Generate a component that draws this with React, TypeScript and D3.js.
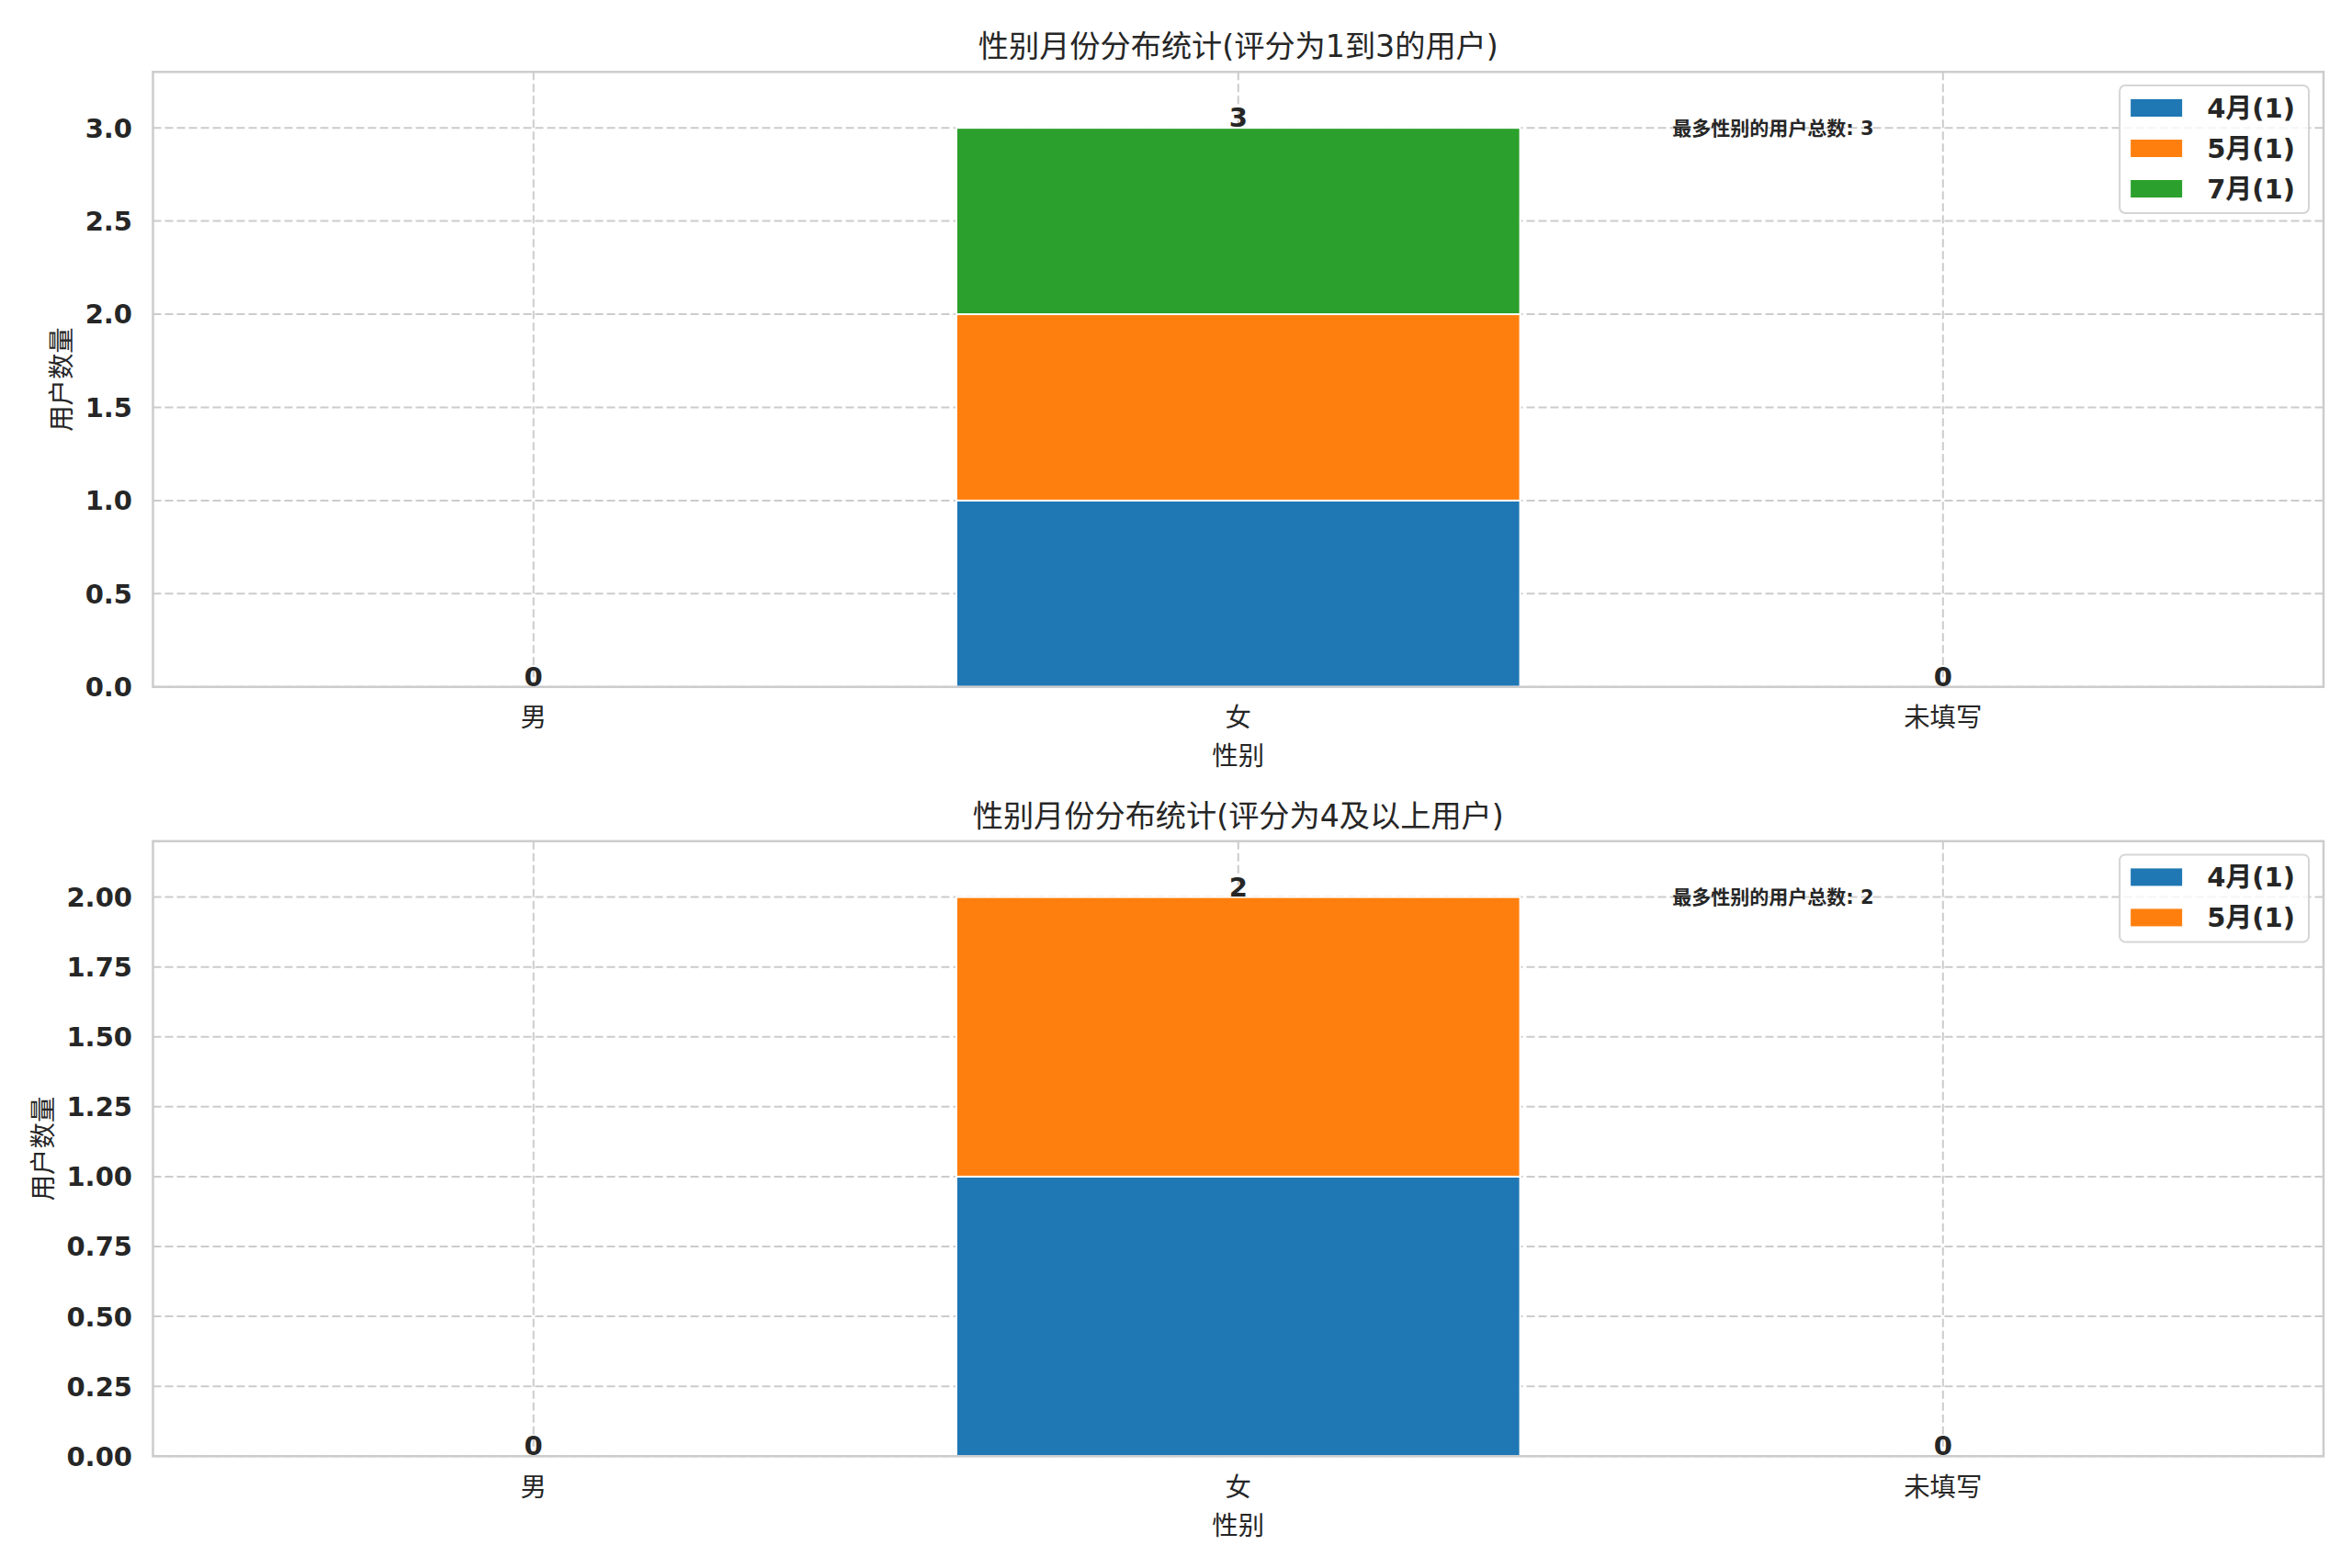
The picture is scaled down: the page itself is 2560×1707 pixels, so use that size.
import React, { useEffect, useRef } from "react";
import * as d3 from "d3";

// categories on the x axis
const genders = ["男", "女", "未填写"];

// upper chart: ratings 1-3
const lowTitle = "性别月份分布统计(评分为1到3的用户)";
const lowMonths = ["4月(1)", "5月(1)", "7月(1)"];
const lowCounts = [
  [0, 1, 0],
  [0, 1, 0],
  [0, 1, 0]
];
const lowTicks = [0, 0.5, 1.0, 1.5, 2.0, 2.5, 3.0];

// lower chart: ratings 4 and up
const highTitle = "性别月份分布统计(评分为4及以上用户)";
const highMonths = ["4月(1)", "5月(1)"];
const highCounts = [
  [0, 1, 0],
  [0, 1, 0]
];
const highTicks = [0, 0.25, 0.5, 0.75, 1.0, 1.25, 1.5, 1.75, 2.0];

const xLabel = "性别";
const yLabel = "用户数量";
const notePrefix = "最多性别的用户总数";

const colors = ["#1f77b4", "#ff7f0e", "#2ca02c"];
const W = 2560;
const H = 1707;
const FONT = "'DejaVu Sans', 'Noto Sans CJK SC', sans-serif";
const INK = "#262626";

const panels = [
  { title: lowTitle, months: lowMonths, counts: lowCounts, ticks: lowTicks, fmt: ".1f", top: 78.3, bottom: 747.8, titleY: 50.5 },
  { title: highTitle, months: highMonths, counts: highCounts, ticks: highTicks, fmt: ".2f", top: 915.7, bottom: 1585.3, titleY: 888 }
];

export default function App() {
  const svgRef = useRef<SVGSVGElement | null>(null);

  useEffect(() => {
    document.body.style.margin = "0";
    const svg = d3.select(svgRef.current);
    svg.selectAll("*").remove();

    const left = 166.5;
    const right = 2529;
    const n = genders.length;
    const pad = 0.05 * (n - 1 + 0.8);
    const x = d3.scaleLinear().domain([-0.4 - pad, n - 1 + 0.4 + pad]).range([left, right]);

    panels.forEach((p) => {
      const rows = genders.map((g, gi) => {
        const r: any = { gender: g };
        p.months.forEach((m, mi) => (r[m] = p.counts[mi][gi]));
        return r;
      });
      const totals = genders.map((_, gi) => d3.sum(p.counts, (c) => c[gi]));
      const maxTotal = d3.max(totals) ?? 0;
      const y = d3.scaleLinear().domain([0, maxTotal * 1.1]).range([p.bottom, p.top]);
      const series = d3.stack<any>().keys(p.months)(rows);

      const g = svg.append("g").style("font-family", FONT).attr("fill", INK);

      // grid
      g.selectAll("line.hgrid")
        .data(p.ticks)
        .enter()
        .append("line")
        .attr("x1", left)
        .attr("x2", right)
        .attr("y1", (d) => y(d))
        .attr("y2", (d) => y(d))
        .attr("stroke", "#cccccc")
        .attr("stroke-width", 2)
        .attr("stroke-dasharray", "9,4");
      g.selectAll("line.vgrid")
        .data(genders)
        .enter()
        .append("line")
        .attr("x1", (_, i) => x(i))
        .attr("x2", (_, i) => x(i))
        .attr("y1", p.top)
        .attr("y2", p.bottom)
        .attr("stroke", "#cccccc")
        .attr("stroke-width", 2)
        .attr("stroke-dasharray", "9,4");

      // bars
      series.forEach((s, si) => {
        g.selectAll(`rect.s${si}`)
          .data(s)
          .enter()
          .append("rect")
          .attr("x", (_, i) => x(i - 0.4))
          .attr("width", x(0.4) - x(-0.4))
          .attr("y", (d) => y(d[1]))
          .attr("height", (d) => y(d[0]) - y(d[1]))
          .attr("fill", colors[si])
          .attr("stroke", "#ffffff")
          .attr("stroke-width", 2);
      });

      // frame
      g.append("rect")
        .attr("x", left)
        .attr("y", p.top)
        .attr("width", right - left)
        .attr("height", p.bottom - p.top)
        .attr("fill", "none")
        .attr("stroke", "#cccccc")
        .attr("stroke-width", 2.5);

      // totals on top
      g.selectAll("text.total")
        .data(totals)
        .enter()
        .append("text")
        .attr("x", (_, i) => x(i))
        .attr("y", (d) => y(d) - 1)
        .attr("text-anchor", "middle")
        .style("font-size", "29px")
        .style("font-weight", "bold")
        .text((d) => d);

      // y ticks
      const yt = g.selectAll("text.ytick")
        .data(p.ticks)
        .enter()
        .append("text")
        .attr("x", 144)
        .attr("y", (d) => y(d))
        .attr("dy", "0.36em")
        .attr("text-anchor", "end")
        .style("font-size", "29px")
        .style("font-weight", "bold")
        .text((d) => d3.format(p.fmt)(d));
      let tickLeft = 144;
      yt.each(function () {
        const b = (this as SVGTextElement).getBBox();
        tickLeft = Math.min(tickLeft, b.x);
      });

      // x ticks
      g.selectAll("text.xtick")
        .data(genders)
        .enter()
        .append("text")
        .attr("x", (_, i) => x(i))
        .attr("y", p.bottom + 33)
        .attr("dy", "0.36em")
        .attr("text-anchor", "middle")
        .style("font-size", "28.4px")
        .text((d) => d);

      // axis labels
      g.append("text")
        .attr("x", (left + right) / 2)
        .attr("y", p.bottom + 75)
        .attr("dy", "0.36em")
        .attr("text-anchor", "middle")
        .style("font-size", "28.4px")
        .text(xLabel);
      g.append("text")
        .attr("transform", `translate(${tickLeft - 26},${(p.top + p.bottom) / 2}) rotate(-90)`)
        .attr("dy", "0.36em")
        .attr("text-anchor", "middle")
        .style("font-size", "28.4px")
        .text(yLabel);

      // title
      g.append("text")
        .attr("x", (left + right) / 2)
        .attr("y", p.titleY)
        .attr("dy", "0.36em")
        .attr("text-anchor", "middle")
        .style("font-size", "33.2px")
        .text(p.title);

      // note
      g.append("text")
        .attr("x", left + 0.7 * (right - left))
        .attr("y", y(maxTotal))
        .attr("dy", "0.36em")
        .style("font-size", "21px")
        .style("font-weight", "bold")
        .text(`${notePrefix}: ${maxTotal}`);

      // legend
      const lg = g.append("g");
      const frame = lg.append("rect");
      const labels = lg.selectAll("text")
        .data(p.months)
        .enter()
        .append("text")
        .attr("y", (_, i) => p.top + 39.2 + i * 44)
        .attr("dy", "0.36em")
        .style("font-size", "29px")
        .style("font-weight", "bold")
        .text((d) => d);
      let maxW = 0;
      labels.each(function () {
        maxW = Math.max(maxW, (this as SVGTextElement).getComputedTextLength());
      });
      const fRight = right - 16;
      const fLeft = fRight - (12 + 56 + 27 + maxW + 15);
      frame
        .attr("x", fLeft)
        .attr("y", p.top + 14.7)
        .attr("width", fRight - fLeft)
        .attr("height", 51 + (p.months.length - 1) * 44)
        .attr("rx", 6)
        .attr("fill", "rgba(255,255,255,0.8)")
        .attr("stroke", "#d5d5d5")
        .attr("stroke-width", 2);
      labels.attr("x", fLeft + 12 + 56 + 27);
      lg.selectAll("rect.patch")
        .data(p.months)
        .enter()
        .append("rect")
        .attr("x", fLeft + 12)
        .attr("y", (_, i) => p.top + 39.2 + i * 44 - 9.5)
        .attr("width", 56)
        .attr("height", 19)
        .attr("fill", (_, i) => colors[i]);
    });
  }, []);

  return <svg ref={svgRef} width={W} height={H} style={{ display: "block", background: "#fff" }} />;
}
